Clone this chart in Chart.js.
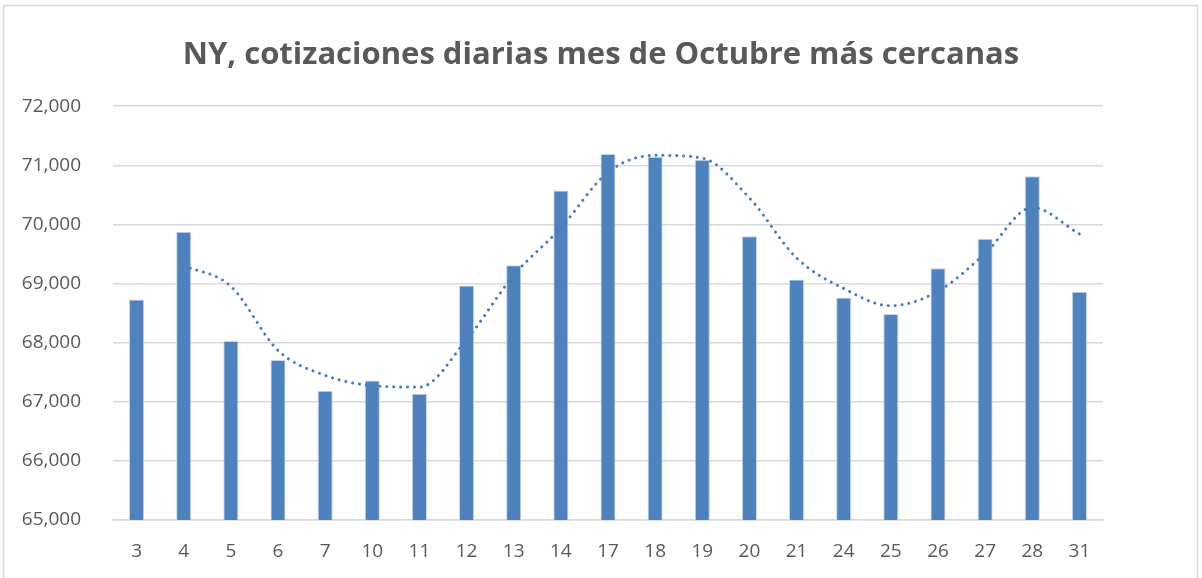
<!DOCTYPE html>
<html>
<head>
<meta charset="utf-8">
<script src="https://cdn.jsdelivr.net/npm/chart.js@4/dist/chart.umd.min.js"></script>
<style>
  html, body { margin: 0; padding: 0; background: #fff; }
  #wrap { width: 1202px; height: 578px; position: relative; }
</style>
</head>
<body>
<div id="wrap"><canvas id="c" width="1202" height="578"></canvas></div>
<script>
const titleText = 'NY, cotizaciones diarias mes de Octubre más cercanas';
const categories = ['3','4','5','6','7','10','11','12','13','14','17','18','19','20','21','24','25','26','27','28','31'];
const quotes = [68730, 69876, 68029, 67708, 67186, 67360, 67135, 68966, 69310, 70574, 71191, 71146, 71096, 69798, 69067, 68764, 68483, 69259, 69759, 70815, 68860];
// 2-period moving-average trendline (none for the first day)
const trendline = [null, 69303, 68953, 67869, 67447, 67273, 67248, 68051, 69138, 69942, 70883, 71169, 71121, 70447, 69433, 68916, 68624, 68871, 69509, 70287, 69838];
const yMin = 65000, yMax = 72000, yStep = 1000;

const FONT = '"Open Sans", "Liberation Sans", sans-serif';
const TXT = '#595959';

const borderPlugin = {
  id: 'outerBorder',
  beforeDraw(chart) {
    const ctx = chart.ctx;
    ctx.save();
    ctx.fillStyle = '#fff';
    ctx.fillRect(0, 0, chart.width, chart.height);
    ctx.strokeStyle = '#d9d9d9';
    ctx.lineWidth = 1.5;
    ctx.strokeRect(3.5, 5.5, 1194, 580);
    ctx.restore();
  }
};

new Chart(document.getElementById('c'), {
  data: {
    labels: categories,
    datasets: [
      {
        type: 'line',
        label: 'Media móvil',
        data: trendline,
        borderColor: '#4a7ebb',
        borderWidth: 3,
        borderDash: [0.1, 6.8],
        borderCapStyle: 'round',
        pointRadius: 0,
        cubicInterpolationMode: 'monotone',
        fill: false,
        order: 0
      },
      {
        type: 'bar',
        label: 'Cotización',
        data: quotes,
        backgroundColor: '#4f81bd',
        borderColor: '#c5d5ea',
        borderWidth: { top: 1, left: 1, right: 1, bottom: 0 },
        barPercentage: 0.32,
        categoryPercentage: 1.0,
        order: 1
      }
    ]
  },
  plugins: [borderPlugin],
  options: {
    responsive: false,
    animation: false,
    layout: { padding: { left: 0, right: 0, top: 0, bottom: 0 } },
    plugins: {
      legend: { display: false },
      tooltip: { enabled: false },
      title: {
        display: true,
        text: titleText,
        color: TXT,
        font: { family: FONT, size: 31, weight: 'bold' },
        padding: { top: 37, bottom: 32 }
      }
    },
    scales: {
      x: {
        grid: { display: false, drawTicks: false },
        border: { display: true, color: '#d9d9d9', width: 1.5 },
        ticks: { color: TXT, font: { family: FONT, size: 19 }, padding: 20, maxRotation: 0, autoSkip: false },
        afterFit(s) { s.height = 58; }
      },
      y: {
        min: yMin, max: yMax,
        grid: { color: '#d9d9d9', lineWidth: 1.5, drawTicks: false },
        border: { display: false },
        ticks: {
          stepSize: yStep,
          color: TXT,
          font: { family: FONT, size: 19 },
          padding: 32,
          callback: v => v.toLocaleString('en-US')
        },
        afterFit(s) { s.width = 113; }
      },
      yRight: {
        position: 'right',
        display: true,
        min: yMin, max: yMax,
        grid: { display: false, drawTicks: false },
        border: { display: false },
        ticks: { display: false },
        afterFit(s) { s.width = 99; }
      }
    }
  }
});
</script>
</body>
</html>
